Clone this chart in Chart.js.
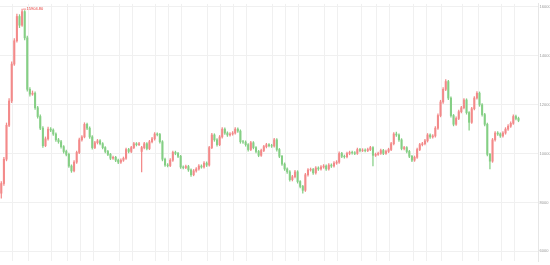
<!DOCTYPE html>
<html>
<head>
<meta charset="utf-8">
<script src="https://cdn.jsdelivr.net/npm/chart.js@4/dist/chart.umd.min.js"></script>
<style>
  html, body { margin: 0; padding: 0; background: #fff; }
  .graph { width: 550px; height: 265px; position: relative; }
</style>
</head>
<body>
<div class="graph"><canvas id="chart"></canvas></div>
<script>
// daily candles (price units)
const opens = [
  8379, 8775, 9768, 11157, 12150, 13659, 14611, 15604, 15247, 15802,
  14730, 12626, 12428, 12468, 11872, 11515, 11038, 10324, 10602, 10999,
  10960, 10800, 10562, 10483, 10284, 10086, 9967, 9490, 9292, 9649,
  10046, 10562, 10681, 11197, 11038, 10681, 10244, 10443, 10522, 10403,
  10244, 10086, 9967, 9808, 9847, 9728, 9649, 9728, 9808, 10165,
  10086, 10244, 10403, 10364, 10086, 10244, 10403, 10205, 10483, 10602,
  10800, 10780, 10483, 9768, 9530, 9510, 9728, 10046, 10006, 9887,
  9450, 9430, 9470, 9331, 9133, 9292, 9371, 9490, 9450, 9609,
  9530, 10244, 10761, 10562, 10364, 10681, 10999, 10840, 10761, 10800,
  10840, 10999, 10919, 10483, 10470, 10364, 10165, 10443, 10244, 10086,
  9927, 10125, 10284, 10364, 10324, 10310, 10562, 10165, 9887, 9570,
  9371, 9252, 8934, 9053, 9252, 8855, 8656, 8498, 9133, 9331,
  9350, 9212, 9411, 9371, 9450, 9490, 9371, 9530, 9490, 9609,
  9649, 10006, 9887, 9870, 10006, 10046, 10030, 10006, 10165, 10125,
  10140, 10125, 10165, 10244, 9927, 9967, 10006, 10125, 10006, 10086,
  10165, 10403, 10800, 10761, 10562, 10205, 10244, 10086, 9887, 9728,
  9847, 10165, 10364, 10403, 10522, 10761, 10681, 10721, 11038, 11555,
  12110, 12626, 12944, 12269, 11555, 11197, 11435, 11713, 11872, 12190,
  11674, 11277, 11832, 12269, 12468, 11991, 11594, 11197, 9967, 9689,
  10562, 10840, 10800, 10721, 10840, 10999, 11118, 11237, 11515, 11435
]
const closes = [
  8775, 9768, 11157, 12150, 13659, 14611, 15604, 15247, 15802, 14730,
  12626, 12428, 12468, 11872, 11515, 11038, 10324, 10602, 10999, 10960,
  10800, 10562, 10483, 10284, 10086, 9967, 9490, 9292, 9649, 10046,
  10562, 10681, 11197, 11038, 10681, 10244, 10443, 10522, 10403, 10244,
  10086, 9967, 9808, 9847, 9728, 9649, 9728, 9808, 10165, 10086,
  10244, 10403, 10364, 10403, 10244, 10403, 10205, 10483, 10602, 10800,
  10780, 10483, 9768, 9530, 9510, 9728, 10046, 10006, 9887, 9450,
  9430, 9470, 9331, 9133, 9292, 9371, 9490, 9450, 9609, 9530,
  10244, 10761, 10562, 10364, 10681, 10999, 10840, 10761, 10800, 10840,
  10999, 10919, 10483, 10470, 10364, 10165, 10443, 10244, 10086, 9927,
  10125, 10284, 10364, 10324, 10310, 10562, 10165, 9887, 9570, 9371,
  9252, 8934, 9053, 9252, 8855, 8656, 8498, 9133, 9331, 9350,
  9212, 9411, 9371, 9450, 9490, 9371, 9530, 9490, 9609, 9649,
  10006, 9887, 9870, 10006, 10046, 10030, 10006, 10165, 10125, 10140,
  10125, 10165, 10244, 9927, 9967, 10006, 10125, 10006, 10086, 10165,
  10403, 10800, 10761, 10562, 10205, 10244, 10086, 9887, 9728, 9847,
  10165, 10364, 10403, 10522, 10761, 10681, 10721, 11038, 11555, 12110,
  12626, 12944, 12269, 11555, 11197, 11435, 11713, 11872, 12190, 11674,
  11277, 11832, 12269, 12468, 11991, 11594, 11197, 9967, 9689, 10562,
  10840, 10800, 10721, 10840, 10999, 11118, 11237, 11515, 11435, 11356
]
const highs = [
  8850, 9850, 11250, 12250, 13750, 14700, 15700, 15680, 15904.8, 15850,
  14800, 12700, 12560, 12520, 11930, 11580, 11100, 10680, 11080, 11060,
  11010, 10850, 10620, 10540, 10330, 10140, 10020, 9540, 9710, 10100,
  10630, 10740, 11260, 11250, 11090, 10730, 10500, 10580, 10570, 10450,
  10290, 10130, 10010, 9900, 9890, 9770, 9780, 9860, 10220, 10210,
  10300, 10460, 10450, 10460, 10300, 10460, 10450, 10540, 10660, 10860,
  10850, 10830, 10530, 9820, 9590, 9790, 10100, 10100, 10050, 9930,
  9500, 9530, 9520, 9380, 9350, 9430, 9550, 9540, 9670, 9660,
  10300, 10830, 10810, 10610, 10740, 11060, 11050, 10890, 10860, 10900,
  11060, 11050, 10970, 10540, 10520, 10410, 10500, 10490, 10290, 10130,
  10180, 10340, 10420, 10410, 10380, 10620, 10610, 10210, 9930, 9620,
  9420, 9300, 9110, 9310, 9300, 8900, 8700, 9190, 9390, 9410,
  9400, 9470, 9460, 9510, 9550, 9540, 9590, 9580, 9670, 9710,
  10070, 10050, 9940, 10060, 10100, 10100, 10080, 10220, 10210, 10200,
  10190, 10220, 10300, 10290, 10020, 10060, 10180, 10170, 10140, 10220,
  10460, 10860, 10880, 10810, 10610, 10300, 10290, 10130, 9930, 9900,
  10220, 10420, 10460, 10580, 10820, 10810, 10780, 11100, 11620, 12180,
  12700, 13023, 12990, 12320, 11600, 11500, 11780, 11930, 12250, 12240,
  11720, 11890, 12330, 12530, 12520, 12040, 11640, 11250, 10010, 10620,
  10900, 10900, 10850, 10900, 11060, 11180, 11300, 11580, 11570, 11490
]
const lows = [
  8180, 8700, 9700, 11100, 12080, 13600, 14550, 15150, 15200, 14650,
  12550, 12350, 12380, 11800, 11450, 10980, 10250, 10280, 10550, 10900,
  10740, 10500, 10420, 10220, 10020, 9900, 9430, 9230, 9250, 9600,
  10000, 10510, 10640, 10980, 10620, 10180, 10200, 10390, 10350, 10190,
  10030, 9910, 9750, 9760, 9670, 9590, 9600, 9680, 9760, 10030,
  10040, 10200, 10310, 10320, 9252, 10190, 10150, 10160, 10430, 10550,
  10720, 10420, 9700, 9470, 9450, 9460, 9680, 9950, 9830, 9390,
  9370, 9380, 9270, 9070, 9090, 9240, 9320, 9400, 9400, 9470,
  9480, 10200, 10500, 10300, 10320, 10630, 10780, 10700, 10710, 10750,
  10790, 10860, 10420, 10410, 10300, 10100, 10120, 10190, 10030, 9870,
  9880, 10080, 10230, 10270, 10250, 10260, 10100, 9830, 9510, 9310,
  9190, 8870, 8880, 9000, 8790, 8590, 8379, 8450, 9080, 9280,
  9150, 9160, 9310, 9320, 9400, 9310, 9320, 9430, 9440, 9560,
  9600, 9830, 9810, 9820, 9950, 9980, 9950, 9960, 10070, 10080,
  10070, 10080, 10120, 9490, 9880, 9920, 9960, 9950, 9960, 10040,
  10120, 10350, 10700, 10500, 10150, 10150, 10030, 9830, 9670, 9680,
  9800, 10120, 10310, 10350, 10470, 10620, 10630, 10670, 10990, 11500,
  12050, 12570, 12200, 11490, 11130, 11150, 11390, 11660, 11820, 11610,
  10959, 11230, 11780, 12220, 11930, 11530, 11130, 9900, 9371, 9640,
  10510, 10740, 10660, 10670, 10790, 10950, 11070, 11190, 11380, 11300
]
const priceTicks = [16000, 14000, 12000, 10000, 8000, 6000]
// candle slots where a vertical grid line sits
const gridSlots = [5, 11, 20, 26, 31, 36, 46, 51, 60, 65, 70, 80, 85, 90, 95,
  105, 110, 115, 125, 130, 139, 145, 150, 159, 164, 170, 178, 184, 193, 198]

const UP = '#f38a8a'
const DOWN = '#85cf85'
const GRID = '#f0f0f0'
const emptySlots = 7 // free room right of the last candle

const labels = closes.map((_, i) => i).concat(Array.from({length: emptySlots}, (_, i) => closes.length + i))
const candleColor = ctx => closes[ctx.dataIndex] >= opens[ctx.dataIndex] ? UP : DOWN

const peakLabel = {
  id: 'peakLabel',
  afterDatasetsDraw(chart) {
    const top = highs.indexOf(Math.max(...highs))
    const x = chart.scales.x.getPixelForValue(top)
    const y = chart.scales.y.getPixelForValue(highs[top])
    const ctx = chart.ctx
    ctx.save()
    ctx.strokeStyle = '#e53935'
    ctx.lineWidth = 0.6
    ctx.beginPath()
    ctx.moveTo(x + 1, y)
    ctx.lineTo(x + 4, y)
    ctx.stroke()
    ctx.fillStyle = '#e53935'
    ctx.font = '4px "Liberation Sans", Arial, sans-serif'
    ctx.textAlign = 'left'
    ctx.textBaseline = 'middle'
    ctx.fillText(highs[top].toFixed(2), x + 4.5, y)
    ctx.restore()
  }
}

new Chart(document.getElementById('chart'), {
  type: 'bar',
  data: {
    labels,
    datasets: [
      {
        label: 'wick',
        data: lows.map((l, i) => [l, highs[i]]),
        backgroundColor: candleColor,
        barThickness: 0.6,
        grouped: false
      },
      {
        label: 'body',
        data: opens.map((o, i) => [o, closes[i]]),
        backgroundColor: candleColor,
        barThickness: 1.4,
        grouped: false
      }
    ]
  },
  options: {
    responsive: true,
    maintainAspectRatio: false,
    animation: false,
    layout: {padding: 0},
    plugins: {
      legend: {display: false},
      tooltip: {enabled: false}
    },
    scales: {
      x: {
        ticks: {display: false, autoSkip: false},
        border: {display: false},
        grid: {
          drawTicks: false,
          lineWidth: 1,
          color: ctx => gridSlots.includes(ctx.index) ? GRID : 'rgba(0,0,0,0)'
        }
      },
      y: {
        position: 'right',
        min: 5603,
        max: 16119,
        afterBuildTicks: scale => {
          scale.ticks = priceTicks.map(value => ({value}))
        },
        afterFit: scale => {
          scale.width = 12
        },
        border: {display: true, color: '#e6e6e6'},
        grid: {color: GRID, drawTicks: false},
        ticks: {
          padding: 1.5,
          color: '#9a9a9a',
          font: {size: 4, family: '"Liberation Sans", Arial, sans-serif'},
          callback: value => String(value)
        }
      }
    }
  },
  plugins: [peakLabel]
})
</script>
</body>
</html>
